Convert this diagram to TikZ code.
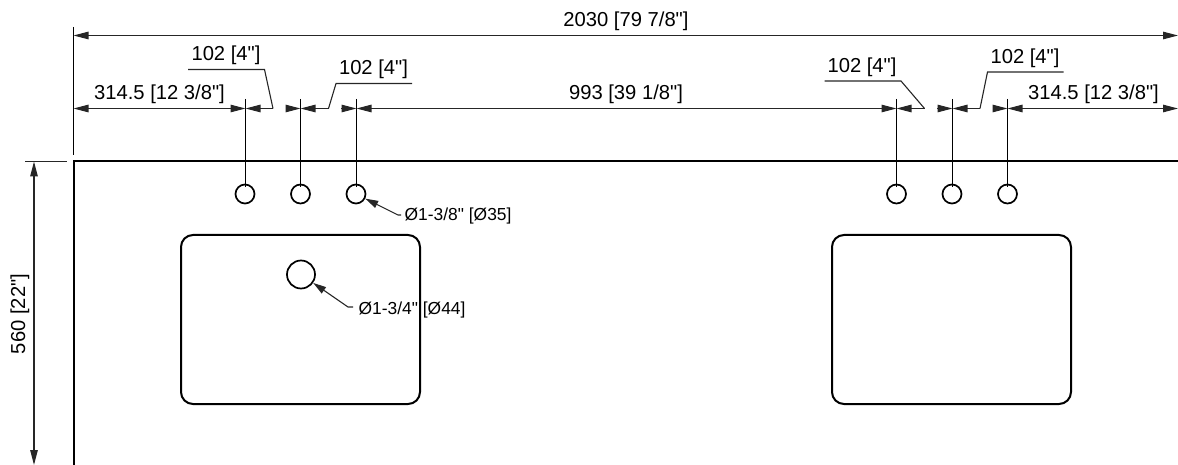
\documentclass[tikz,border=0pt]{standalone}
\usepackage{fontspec}
\setmainfont{Liberation Sans}[Ligatures=TeXOff]
\usetikzlibrary{arrows.meta}
\tikzset{
  tip/.tip={Triangle[length=15pt,width=7.5pt]},
  smalltip/.tip={Triangle[length=13pt,width=7.5pt]},
  thinline/.style={draw=black!85,line width=1.1pt},
  dimline/.style={thinline,-{tip}},
  dimboth/.style={thinline,{tip}-{tip}},
  extline/.style={draw=black,line width=1.2pt},
  heavy/.style={draw=black,line width=2pt},
  holec/.style={circle,draw=black,line width=1.7pt,minimum size=19pt,inner sep=0pt,fill=white},
  bighole/.style={holec,minimum size=28pt},
  big/.style={anchor=base,inner sep=0pt,font=\fontsize{20.2}{24}\selectfont},
  small/.style={anchor=base west,inner sep=0pt,font=\fontsize{17.4}{21}\selectfont},
}
\begin{document}
\begin{tikzpicture}[x=1pt,y=-1pt]
\useasboundingbox (0,0) rectangle (1178,465);
% plate
\coordinate (pbl) at (73.5,465);
\coordinate (ptl) at (73.5,161.5);
\coordinate (ptr) at (1178,161.5);
\draw[heavy] (pbl) -- (ptl) -- (ptr);
% sinks
\draw[heavy,rounded corners=12pt] (181,235) rectangle (420,404);
\draw[heavy,rounded corners=12pt] (832,235) rectangle (1071,404);
% tap holes
\node[holec] (h1) at (245,194) {};
\node[holec] (h2) at (300.5,194) {};
\node[holec] (h3) at (356,194) {};
\node[holec] (h4) at (896.5,194) {};
\node[holec] (h5) at (952,194) {};
\node[holec] (h6) at (1007.5,194) {};
\node[bighole] (h7) at (301,274.5) {};
% dimension points
\coordinate (d0) at (73.5,108.5);
\coordinate (d1) at (245.5,108.5);
\coordinate (d2) at (300.5,108.5);
\coordinate (d3) at (356.5,108.5);
\coordinate (d4) at (896.5,108.5);
\coordinate (d5) at (952.5,108.5);
\coordinate (d6) at (1007.5,108.5);
\coordinate (d7) at (1178,108.5);
\coordinate (t1) at (73.5,35.5);
\coordinate (t2) at (1178,35.5);
% extension lines
\coordinate (ex0a) at (73.5,27);
\coordinate (ex0b) at (73.5,155);
\draw[extline] (ex0a) -- (ex0b);
\foreach \n/\x in {1/245.5,2/300.5,3/356.5,4/896.5,5/952.5,6/1007.5}{
  \coordinate (et\n) at (\x,99);
  \coordinate (eb\n) at (\x,187);
  \draw[extline] (et\n) -- (eb\n);
}
\coordinate (lx1) at (25,161.5);
\coordinate (lx2) at (67,161.5);
\draw[thinline] (lx1) -- (lx2);
% overall and height dimensions
\draw[dimboth] (t1) -- (t2);
\coordinate (v1) at (34,161.5);
\coordinate (v2) at (34,465);
\draw[dimboth] (v1) -- (v2);
% chain dimension
\coordinate (g1) at (273,108.5);
\coordinate (g2) at (286,108.5);
\coordinate (g3) at (328.5,108.5);
\coordinate (g4) at (341,108.5);
\coordinate (g5) at (924.5,108.5);
\coordinate (g6) at (937,108.5);
\coordinate (g7) at (980,108.5);
\coordinate (g8) at (993,108.5);
\draw[dimboth] (d0) -- (d1);
\draw[dimline] (g1) -- (d1);
\draw[dimline] (g2) -- (d2);
\draw[dimline] (g3) -- (d2);
\draw[dimline] (g4) -- (d3);
\draw[dimboth] (d3) -- (d4);
\draw[dimline] (g5) -- (d4);
\draw[dimline] (g6) -- (d5);
\draw[dimline] (g7) -- (d5);
\draw[dimline] (g8) -- (d6);
\draw[dimboth] (d6) -- (d7);
% leaders
\coordinate (la1) at (188,69.5);
\coordinate (la2) at (264.5,69.5);
\draw[thinline] (la1) -- (la2) -- (g1);
\coordinate (lb1) at (412,83.5);
\coordinate (lb2) at (336,83.5);
\draw[thinline] (lb1) -- (lb2) -- (g3);
\coordinate (lc1) at (824.5,81);
\coordinate (lc2) at (901,81);
\draw[thinline] (lc1) -- (lc2) -- (g5);
\coordinate (ld1) at (1063.5,72);
\coordinate (ld2) at (987.5,72);
\draw[thinline] (ld1) -- (ld2) -- (g7);
% hole callouts
\coordinate (c1a) at (401,215);
\coordinate (c1b) at (398,215);
\coordinate (c2a) at (353,307);
\coordinate (c2b) at (348,307);
\draw[thinline,-{smalltip}] (c1a) -- (c1b) -- (h3);
\draw[thinline,-{smalltip}] (c2a) -- (c2b) -- (h7);
% texts
\node[big] (n2030) at (626,27) {2030 [79 7/8"]};
\node[big] (n993) at (626,100) {993 [39 1/8"]};
\node[big] (nl) at (159.5,100) {314.5 [12 3/8"]};
\node[big] (nr) at (1093.5,100) {314.5 [12 3/8"]};
\node[big] (na) at (226,61) {102 [4"]};
\node[big] (nb) at (373.5,75) {102 [4"]};
\node[big] (nc) at (862,73) {102 [4"]};
\node[big] (nd) at (1025,64) {102 [4"]};
\node[big,rotate=90] (nv) at (25,314) {560 [22"]};
\node[small] (s1) at (404.5,221) {Ø1-3/8" [Ø35]};
\node[small] (s2) at (358.5,314) {Ø1-3/4" [Ø44]};
\end{tikzpicture}
\end{document}
